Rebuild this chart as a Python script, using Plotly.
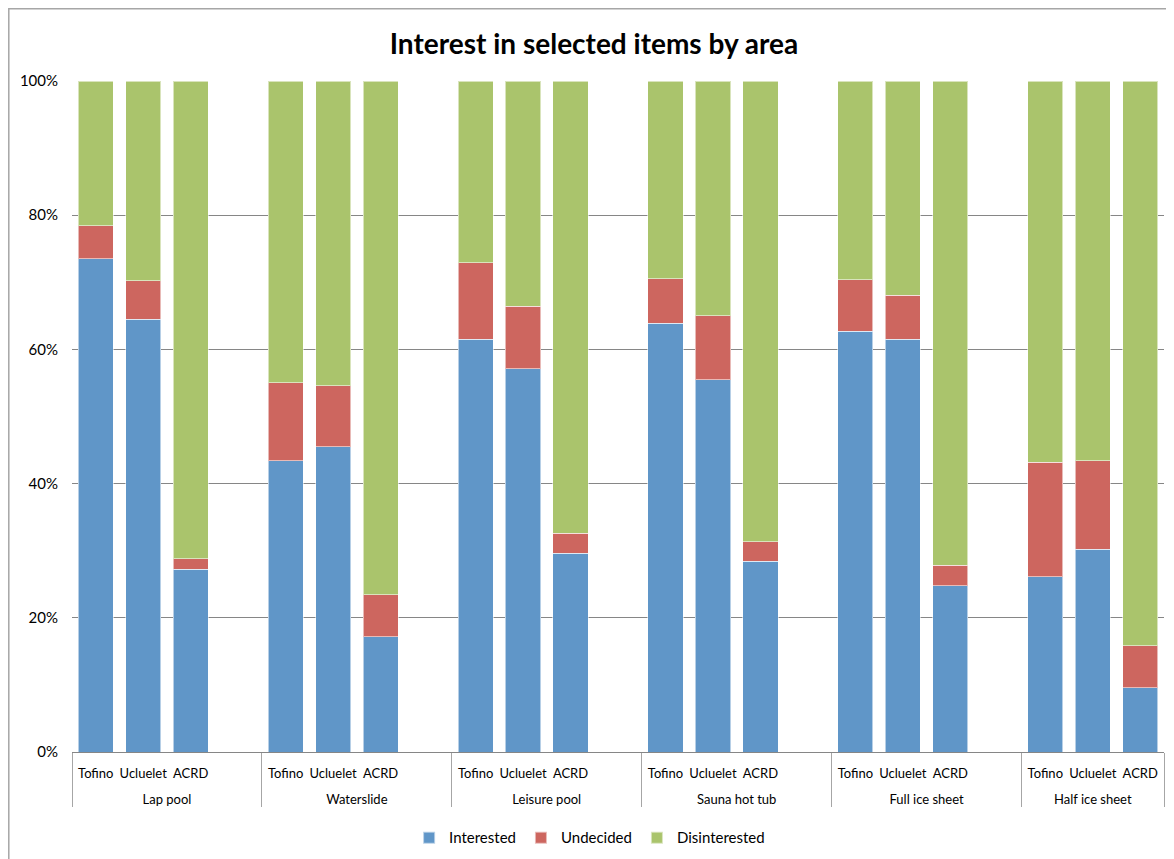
import plotly.graph_objects as go

groups = ["Lap pool", "Waterslide", "Leisure pool", "Sauna hot tub", "Full ice sheet", "Half ice sheet"]
areas = ["Tofino", "Ucluelet", "ACRD"]

# share of respondents (%) per group: Tofino, Ucluelet, ACRD
interested = [
    [73.5, 64.5, 27.2],
    [43.4, 45.5, 17.2],
    [61.5, 57.1, 29.6],
    [63.9, 55.5, 28.4],
    [62.7, 61.5, 24.8],
    [26.1, 30.2, 9.6],
]
undecided = [
    [4.9, 5.7, 1.6],
    [11.6, 9.1, 6.2],
    [11.4, 9.3, 3.0],
    [6.6, 9.5, 2.9],
    [7.7, 6.6, 3.0],
    [17.1, 13.2, 6.2],
]
disinterested = [
    [21.6, 29.8, 71.2],
    [45.0, 45.4, 76.6],
    [27.1, 33.6, 67.4],
    [29.5, 35.0, 68.7],
    [29.6, 31.9, 72.2],
    [56.8, 56.6, 84.2],
]

series_names = ["Interested", "Undecided", "Disinterested"]
series_values = [interested, undecided, disinterested]
colors = ["#6096C8", "#CD665F", "#AAC46C"]

# multicategory x: each group followed by a blank slot, except the last
# (a trailing line break leaves room between the two label rows, as in Excel)
xg, xs = [], []
for gi, g in enumerate(groups):
    for a in areas:
        xg.append(g)
        xs.append(a + "<br> ")
    if gi < len(groups) - 1:
        xg.append(g)
        xs.append(" <br> ")

fig = go.Figure()
for name, vals, col in zip(series_names, series_values, colors):
    y = []
    for gi, g in enumerate(groups):
        tot = [interested[gi][k] + undecided[gi][k] + disinterested[gi][k] for k in range(3)]
        y.extend([vals[gi][k] / tot[k] for k in range(3)])
        if gi < len(groups) - 1:
            y.append(None)
    fig.add_trace(go.Bar(
        x=[xg, xs], y=y, name=name,
        marker=dict(color=col, line=dict(color="rgba(255,255,255,0.55)", width=1)),
    ))

font_family = "Lato, Calibri, Carlito, sans-serif"

# page body adds an 8px offset; figure = Excel chart area
W, H = 1166, 851
fig.update_layout(
    width=W, height=H,
    barmode="stack",
    bargap=0.26,
    paper_bgcolor="white",
    plot_bgcolor="white",
    margin=dict(l=64, r=10, t=73, b=107, autoexpand=False),
    font=dict(family=font_family, size=14, color="#000000"),
    title=dict(
        text="<b>Interest in selected items by area</b>",
        x=(594 - 8) / W, xanchor="center", y=1 - (44 - 8) / H, yanchor="middle",
        font=dict(family=font_family, size=28, color="#000000"),
    ),
    legend=dict(
        orientation="h", x=0.474, xanchor="center", y=-0.128, yanchor="middle",
        font=dict(family=font_family, size=15),
        traceorder="normal", itemwidth=30, itemsizing="constant",
    ),
    xaxis=dict(
        type="multicategory",
        showline=True, linecolor="#868686", linewidth=1,
        showgrid=False,
        showdividers=True, dividercolor="#a6a6a6", dividerwidth=1,
        tickfont=dict(family=font_family, size=13),
        tickangle=0,
        ticklabelstandoff=9,
        automargin=False,
    ),
    yaxis=dict(
        range=[0, 1], dtick=0.2, tickformat=".0%",
        showgrid=True, gridcolor="#868686", gridwidth=1,
        showline=False, zeroline=False,
        tickfont=dict(family=font_family, size=15),
        ticks="", ticklabelstandoff=13,
        automargin=False,
    ),
)

# outer chart area frame (left and top edges visible in the reference)
fig.add_shape(type="rect", xref="paper", yref="paper",
              x0=(8.8 - 72) / 1092, x1=(1190 - 72) / 1092,
              y0=(752 - 880) / 671, y1=(752 - 8.8) / 671,
              line=dict(color="#a6a6a6", width=1.5), fillcolor="rgba(0,0,0,0)", layer="below")

fig.write_html("out.html")
